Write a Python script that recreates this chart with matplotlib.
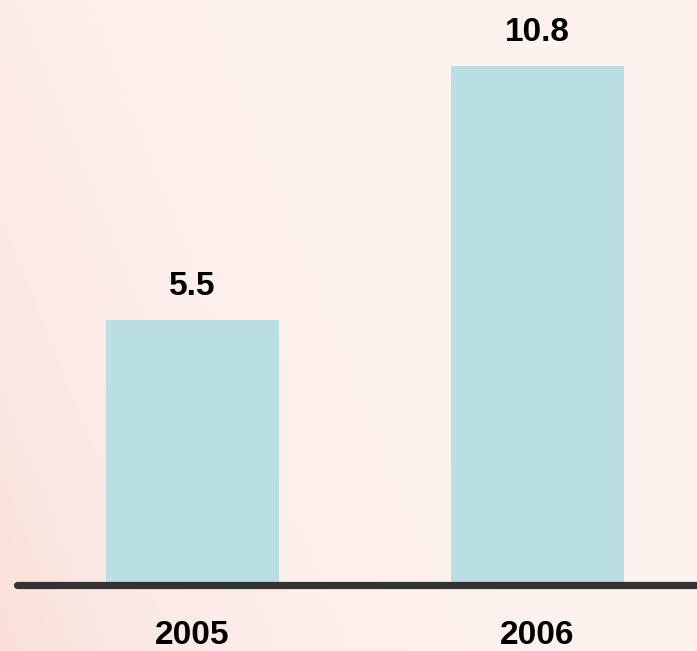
import numpy as np
import matplotlib
matplotlib.use("Agg")
import matplotlib.pyplot as plt
from matplotlib.colors import LinearSegmentedColormap

categories = ["2005", "2006"]
values = [5.5, 10.8]
value_labels = ["5.5", "10.8"]

W, H = 697, 651
fig = plt.figure(figsize=(W / 100, H / 100), dpi=100)

# background gradient
bg = fig.add_axes([0, 0, 1, 1])
bg.set_axis_off()
yy, xx = np.mgrid[0:1:200j, 0:1:200j]
grad = np.clip(0.8 * xx + 0.3 * yy, 0, 1)
cmap = LinearSegmentedColormap.from_list("bgc", ["#FAE0D9", "#FCEAE6", "#FDEFEC", "#FEF2EF"])
bg.imshow(grad, cmap=cmap, aspect="auto", extent=[0, 1, 0, 1], origin="lower", vmin=0.0, vmax=0.6)
bg.set_xlim(0, 1)
bg.set_ylim(0, 1)

# main axes
left_px, right_px = 17, 697
base_px = 583.5
ppu = 47.9
ax = fig.add_axes([left_px / W, (H - base_px) / H, (right_px - left_px) / W, base_px / H])
ax.patch.set_alpha(0)
x = np.arange(len(categories))
ax.bar(x, values, width=0.5, color="#B9DFE3", zorder=2)
ax.set_xlim(-0.5087, 1.462)
ax.set_ylim(0, base_px / ppu)
for xi, v, lab in zip(x, values, value_labels):
    ax.annotate(lab, (xi, v), xytext=(0, 13), textcoords="offset points",
                ha="center", va="bottom", fontsize=24, fontweight="bold",
                family="Liberation Sans", color="black")
ax.axhline(-1.5 / ppu, color="#333333", lw=5.2, solid_capstyle="round", zorder=3, clip_on=False)
for s in ax.spines.values():
    s.set_visible(False)
ax.set_yticks([])
ax.set_xticks(x)
ax.set_xticklabels(categories, fontsize=24, fontweight="bold", family="Liberation Sans")
ax.tick_params(axis="x", length=0, pad=26)

fig.savefig("out.png", dpi=100)
